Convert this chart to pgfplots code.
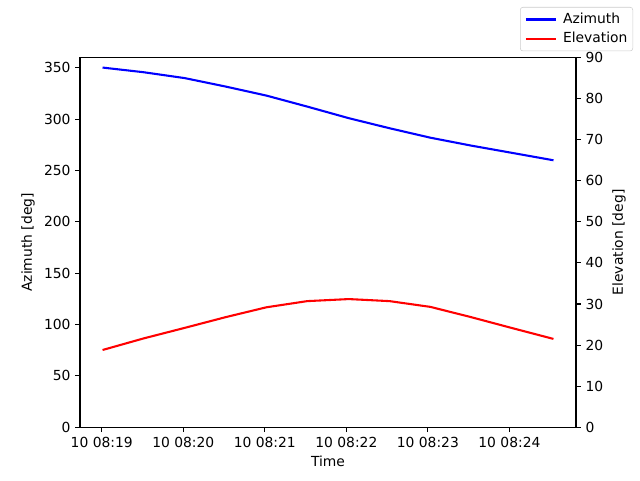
\documentclass[border=0pt]{standalone}
\usepackage{fontspec}
\setmainfont{DejaVu Sans}
\usepackage{pgfplots}
\usepackage{pgfplotstable}
\pgfplotsset{compat=1.18}

% t = minutes after 08:19, az/el in degrees
\pgfplotstableread{
t    az    el
0.01 350.3 18.8
0.51 345.8 21.6
1.02 340.0 24.2
1.52 331.8 26.8
2.02 323.0 29.2
2.52 312.3 30.7
3.03 301.0 31.2
3.53 291.2 30.7
4.03 282.0 29.3
4.53 274.3 26.8
5.04 267.1 24.1
5.54 260.0 21.5
}\track

\pgfplotsset{
  base/.style={
    scale only axis,
    width=372pt, height=277.2pt,
    at={(60pt,39.6pt)}, anchor=south west,
    xmin=-0.2665, xmax=5.8165,
    axis line style={line width=0.83pt},
    tick align=outside,
    major tick length=3.6pt,
    every tick/.style={black, line width=0.83pt},
    /pgf/number format/assume math mode=true,
    tick label style={font=\fontsize{10.4}{12}\selectfont},
    label style={font=\fontsize{10.4}{12}\selectfont},
  }
}

\begin{document}
\begin{tikzpicture}
\path (0,0) rectangle (480pt,360pt);

\begin{axis}[base,
  xtick pos=bottom,
  ytick pos=left,
  ymin=0, ymax=360,
  ytick={0,50,...,350},
  xtick={0,1,2,3,4,5},
  xticklabels={10 08:19,10 08:20,10 08:21,10 08:22,10 08:23,10 08:24},
  xlabel={Time},
  ylabel={Azimuth [deg]},
]
\addplot[blue, line width=1.56pt] table[x=t, y=az] {\track};
\end{axis}

\begin{axis}[base,
  axis y line*=right,
  axis x line=none,
  ymin=0, ymax=90,
  ytick={0,10,...,90},
  ylabel={Elevation [deg]},
  legend style={
    at={(1.115,1.137)}, anchor=north east,
    draw=black!20, rounded corners=2pt,
    font=\fontsize{10.4}{12}\selectfont,
    inner xsep=2pt, inner ysep=2.5pt,
    row sep=1pt,
    legend cell align=left,
  },
  legend image code/.code={%
    \draw[#1, line width=1.56pt] (0pt,0pt) -- (22.5pt,0pt);
    \path (-1.5pt,0pt) (25pt,0pt);},
]
\addlegendimage{blue}
\addlegendentry{Azimuth}
\addplot[red, line width=1.56pt] table[x=t, y=el] {\track};
\addlegendentry{Elevation}
\end{axis}
\end{tikzpicture}
\end{document}
